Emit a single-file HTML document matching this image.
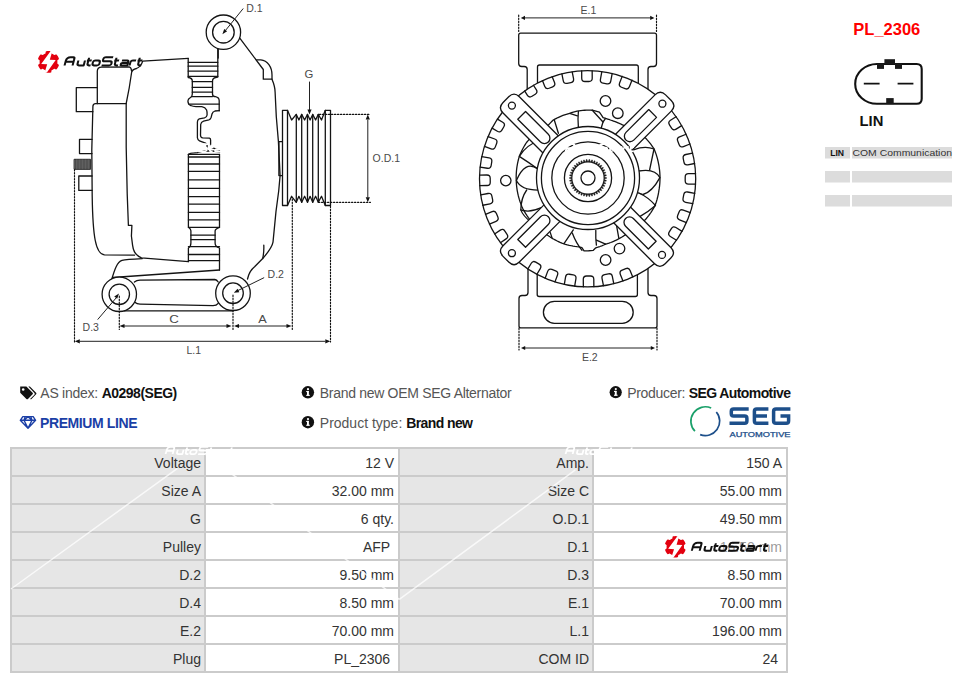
<!DOCTYPE html>
<html><head><meta charset="utf-8"><title>PL_2306</title>
<style>
*{margin:0;padding:0;box-sizing:border-box}
html,body{width:976px;height:683px;overflow:hidden;background:#fff}
body{position:relative;font-family:"Liberation Sans",sans-serif;color:#333}
.abs{position:absolute;white-space:nowrap}
svg{position:absolute;left:0;top:0}
.info{font-size:14px;line-height:16px;color:#555}
.info b{color:#111;font-weight:bold}
table.spec{position:absolute;left:10px;top:447px;border-collapse:separate;border-spacing:2px;background:#cbcbcb;font-size:14px;color:#333;table-layout:fixed;width:778px}
table.spec td{width:192px;height:26px;padding:2px 4px 0 0;text-align:right;vertical-align:middle;line-height:16px;overflow:hidden}
table.spec td.l{background:#e6e6e6;padding-right:3px}
table.spec td.v{background:#fff}
</style></head><body>
<svg width="976" height="683" viewBox="0 0 976 683">
<g stroke-linecap="round" stroke-linejoin="round">
<path d="M97.3,87.7 H76.3 V111.7 H92.9" stroke="#141414" stroke-width="1.3" fill="none"/>
<path d="M92,139.4 H79.5 V153.6 H92" stroke="#141414" stroke-width="1.3" fill="none"/>
<rect x="74.5" y="159.3" width="16" height="10" fill="#4a4a4a" stroke="#222" stroke-width="1"/>
<path d="M76.5,159.8 V168.8" stroke="#777" stroke-width="0.5"/>
<path d="M78.0,159.8 V168.8" stroke="#777" stroke-width="0.5"/>
<path d="M79.5,159.8 V168.8" stroke="#777" stroke-width="0.5"/>
<path d="M81.0,159.8 V168.8" stroke="#777" stroke-width="0.5"/>
<path d="M82.5,159.8 V168.8" stroke="#777" stroke-width="0.5"/>
<path d="M84.0,159.8 V168.8" stroke="#777" stroke-width="0.5"/>
<path d="M85.5,159.8 V168.8" stroke="#777" stroke-width="0.5"/>
<path d="M87.0,159.8 V168.8" stroke="#777" stroke-width="0.5"/>
<path d="M88.5,159.8 V168.8" stroke="#777" stroke-width="0.5"/>
<path d="M90.0,159.8 V168.8" stroke="#777" stroke-width="0.5"/>
<path d="M92.1,176 H78.8 V190.4 H92.1" stroke="#141414" stroke-width="1.3" fill="none"/>
<path d="M97.3,103.7 V71.2 Q97.3,67.3 101.5,67.2 L129.5,67 Q131.4,67.6 131.6,71.2" stroke="#141414" stroke-width="1.3" fill="none"/>
<path d="M126.3,103.7 H95.6 Q92.9,103.7 92.9,106.6 L91.8,150 L92.2,196 C92.8,236 95.5,254.4 104.5,254.8 L134.5,255.2" stroke="#141414" stroke-width="1.3" fill="none"/>
<path d="M188.2,58.4 L142.7,61.1 Q141,66.6 136.5,68.5 Q132.2,69.4 131.6,72.5 C130.6,80 128,95 126.2,103.5 L126.2,147 L127.2,193.7 L128.4,225.4 H131.9 L131.4,236 L132.6,245.3 Q133.8,255 141.5,257.8 L188.4,261.6" stroke="#141414" stroke-width="1.3" fill="none"/>
<path d="M188.2,58.4 V77.5 Q192.3,78 192.3,81 V94 Q192.3,96.7 190.5,97.5 Q187.9,99 187.9,101 Q188,104.5 190.6,105.5" stroke="#141414" stroke-width="1.3" fill="none"/>
<path d="M217.8,49 V77 Q212.5,77.5 212.5,81 V94 Q212.5,96.7 215.5,96.7 Q219.2,97.5 219.2,100.7 V110.8" stroke="#141414" stroke-width="1.3" fill="none"/>
<path d="M188.2,62.3 H217.8" stroke="#141414" stroke-width="1.3" fill="none"/>
<path d="M188.2,66.2 H217.8" stroke="#141414" stroke-width="1.3" fill="none"/>
<path d="M188.2,71.1 H217.8" stroke="#141414" stroke-width="1.3" fill="none"/>
<path d="M188.2,76.4 H217.8" stroke="#141414" stroke-width="1.3" fill="none"/>
<path d="M192.3,81.6 H212.5" stroke="#141414" stroke-width="1.3" fill="none"/>
<path d="M192.3,87.4 H212.5" stroke="#141414" stroke-width="1.3" fill="none"/>
<path d="M192.3,92.2 H212.5" stroke="#141414" stroke-width="1.3" fill="none"/>
<path d="M192.3,96.6 H212.5" stroke="#141414" stroke-width="1.3" fill="none"/>
<path d="M189,104.2 H219.2" stroke="#141414" stroke-width="1.3" fill="none"/>
<path d="M190.6,105.5 Q193,106.6 196,106.6 L201.8,106.6 Q205.3,107.2 206.6,110 Q207.3,112 207.1,115 Q206.8,117.3 204.5,117.9 L199.2,118.9 Q197.4,119.8 197.4,122 V137.8 Q197.6,140 199.5,140.8 L205.5,143.2 Q207.1,144 207.1,145.5 V149.5" stroke="#141414" stroke-width="1.3" fill="none"/>
<path d="M219.4,110.6 L215,111 Q212.6,111.8 212,114 L211.2,117.2 Q210.5,119.3 208.9,119.8 L203.6,121.1 Q201,122 200.7,124.5 L200.5,135.2 Q200.6,137.6 202.7,137.8 L209.4,138.2 Q210.6,138.5 210.6,140 V147.2 L219.8,150.3" stroke="#141414" stroke-width="1.3" fill="none"/>
<path d="M188.4,154.4 Q190,153 197.4,152.7 Q200,152.2 203.6,151 L212.4,151 L219.6,151.9" stroke="#141414" stroke-width="1.3" fill="none"/>
<path d="M188.4,154.4 H219.5" stroke="#141414" stroke-width="1.3" fill="none"/>
<path d="M188.4,154.4 V227.3 Q191,229 190.9,231 V243 Q190.9,246.6 188.4,248 V261.6" stroke="#141414" stroke-width="1.3" fill="none"/>
<path d="M219.5,154.4 V227.3 Q215.1,229 215.1,231 V243 Q215.1,246.6 219.5,248 V270" stroke="#141414" stroke-width="1.3" fill="none"/>
<path d="M188.4,157 H219.5" stroke="#141414" stroke-width="1.3" fill="none"/>
<path d="M188.4,164 H219.5" stroke="#141414" stroke-width="1.3" fill="none"/>
<path d="M188.4,171.4 H219.5" stroke="#141414" stroke-width="1.3" fill="none"/>
<path d="M188.4,179.9 H219.5" stroke="#141414" stroke-width="1.3" fill="none"/>
<path d="M188.4,188.3 H219.5" stroke="#141414" stroke-width="1.3" fill="none"/>
<path d="M188.4,196.6 H219.5" stroke="#141414" stroke-width="1.3" fill="none"/>
<path d="M188.4,204.1 H219.5" stroke="#141414" stroke-width="1.3" fill="none"/>
<path d="M188.4,212.4 H219.5" stroke="#141414" stroke-width="1.3" fill="none"/>
<path d="M188.4,219.9 H219.5" stroke="#141414" stroke-width="1.3" fill="none"/>
<path d="M188.4,227.3 H219.5" stroke="#141414" stroke-width="1.3" fill="none"/>
<path d="M190.9,235.2 H215.1" stroke="#141414" stroke-width="1.3" fill="none"/>
<path d="M190.9,239.6 H215.1" stroke="#141414" stroke-width="1.3" fill="none"/>
<path d="M188.4,246.6 H219.5" stroke="#141414" stroke-width="1.3" fill="none"/>
<path d="M188.4,254.5 H219.5" stroke="#141414" stroke-width="1.3" fill="none"/>
<path d="M188.4,260.7 H219.5" stroke="#141414" stroke-width="1.3" fill="none"/>
<path d="M239.4,37.7 L263.3,69.5 V79.2 H272" stroke="#141414" stroke-width="1.3" fill="none"/>
<path d="M256.7,59.9 H260.8 C267.5,60.5 272,67 272,75.1 V79.2 C274,84 275.1,88 275.1,92 L276.3,116.8 L278.4,141.4 L280.1,175.6 L278.7,191 L276,211.4 L274,231.9 L273,242.1 C272,247.5 268,252.5 262.7,258.5 L254.6,266.7 C251,269.5 248.8,273 247.5,279" stroke="#141414" stroke-width="1.3" fill="none"/>
<path d="M263.8,245.2 C264,250 263.5,255 262.7,258.5" stroke="#141414" stroke-width="1.3" fill="none"/>
<path d="M282.6,141.6 H278.9 V175.6 H282.6" stroke="#141414" stroke-width="1.3" fill="none"/>
<rect x="282.5" y="110.3" width="5" height="95.2" stroke="#141414" stroke-width="1.3" fill="#fff"/>
<rect x="325.3" y="110.3" width="5.2" height="95.2" stroke="#141414" stroke-width="1.3" fill="#fff"/>
<path d="M287.5,110.3 L291.6,120 L296.3,114.4 L298.9,120 L301.7,114.4 L304.6,120 L307.5,114.4 L310.1,120 L312.7,114.4 L315.6,120 L318.3,114.4 L321.5,120 L325.3,110.3" stroke="#141414" stroke-width="1.3" fill="none"/>
<path d="M287.5,205.5 L291.6,196.3 L296.3,202.3 L298.9,196.3 L301.7,202.3 L304.6,196.3 L307.5,202.3 L310.1,196.3 L312.7,202.3 L315.6,196.3 L318.3,202.3 L321.5,196.3 L325.3,205.5" stroke="#141414" stroke-width="1.3" fill="none"/>
<path d="M296.3,114.4 V202.3" stroke="#141414" stroke-width="1.3" fill="none"/>
<path d="M301.7,114.4 V202.3" stroke="#141414" stroke-width="1.3" fill="none"/>
<path d="M307.5,114.4 V202.3" stroke="#141414" stroke-width="1.3" fill="none"/>
<path d="M312.7,114.4 V202.3" stroke="#141414" stroke-width="1.3" fill="none"/>
<path d="M318.3,114.4 V202.3" stroke="#141414" stroke-width="1.3" fill="none"/>
<circle cx="223.4" cy="32.2" r="17.2" stroke="#141414" stroke-width="1.3" fill="#fff"/>
<circle cx="223.4" cy="32.2" r="10.8" stroke="#141414" stroke-width="1.3" fill="none"/>
<path d="M218.2,49.3 V58" stroke="#141414" stroke-width="1.3" fill="none"/>
<path d="M111.8,279 C114.5,270 117,262 122,260.4 Q126,259.4 142.3,258.6" stroke="#141414" stroke-width="1.3" fill="none"/>
<path d="M112.8,277.5 L219.5,270" stroke="#141414" stroke-width="1.3" fill="none"/>
<path d="M134.4,282 Q136.5,280.3 140,280.2 L214.8,279.5 Q216.8,279.7 218.2,282" stroke="#141414" stroke-width="1.3" fill="none"/>
<path d="M135.2,302.5 Q136.8,304.1 140,304.2 L213,305.7 Q216.5,305.6 218.2,303.3" stroke="#141414" stroke-width="1.3" fill="none"/>
<path d="M124.4,310.9 H233" stroke="#141414" stroke-width="1.3" fill="none"/>
<circle cx="119.3" cy="294.3" r="17.2" stroke="#141414" stroke-width="1.3" fill="#fff"/>
<circle cx="119.3" cy="294.3" r="10.2" stroke="#141414" stroke-width="1.3" fill="none"/>
<circle cx="233" cy="293.2" r="17.3" stroke="#141414" stroke-width="1.3" fill="#fff"/>
<circle cx="233" cy="293.2" r="10.3" stroke="#141414" stroke-width="1.3" fill="none"/>
<path d="M74.5,169.5 V343" stroke="#111" stroke-width="1.15" stroke-dasharray="1.4,1.6" fill="none"/>
<path d="M119.3,296 V329.5" stroke="#111" stroke-width="1.15" stroke-dasharray="1.4,1.6" fill="none"/>
<path d="M233,295 V329.5" stroke="#111" stroke-width="1.15" stroke-dasharray="1.4,1.6" fill="none"/>
<path d="M292.3,199 V329.5" stroke="#111" stroke-width="1.15" stroke-dasharray="1.4,1.6" fill="none"/>
<path d="M330.5,206 V342" stroke="#111" stroke-width="1.15" stroke-dasharray="1.4,1.6" fill="none"/>
<path d="M319.5,114.4 H370.5 M318.5,202.3 H370.5" stroke="#111" stroke-width="1.15" stroke-dasharray="1.4,1.6" fill="none"/>
<path d="M80,341.3 H325 M124,326 H227 M238,326 H287 M367.8,120 V197 M309.5,82 V110" stroke="#222" stroke-width="1" fill="none"/>
<path d="M74.8,341.3 l5,-2.1 v4.2 z M330.3,341.3 l-5,-2.1 v4.2 z M119.5,326 l5,-2.1 v4.2 z M231.5,326 l-5,-2.1 v4.2 z M234,326 l5,-2.1 v4.2 z M291.5,326 l-5,-2.1 v4.2 z M367.8,114.6 l-2.1,5 h4.2 z M367.8,202.2 l-2.1,-5 h4.2 z M309.5,114.6 l-2.1,-5 h4.2 z" fill="#111"/>
<path d="M243,8.8 L226,29.8 M263.8,277.8 L238,290.5 M97.9,319.3 L115.8,298.3" stroke="#222" stroke-width="1" fill="none"/>
<path d="M222.40,34.20 L224.20,28.96 L227.15,31.36 Z M233.80,292.80 L237.60,288.78 L239.30,292.17 Z M119.00,293.60 L117.17,298.82 L114.23,296.41 Z" fill="#111"/>
<path d="M527.2,100 V69.5 A3,3 0 0 0 524.2,66.5 H521.7 A3,3 0 0 1 518.7,63.5 V35.2 A2,2 0 0 1 520.7,33.2 H654.5 A2,2 0 0 1 656.5,35.2 V63.5 A3,3 0 0 1 653.5,66.5 H651 A3,3 0 0 0 648,69.5 V100" stroke="#141414" stroke-width="1.3" fill="#fff"/>
<path d="M537.5,100 V67 A2,2 0 0 1 539.5,65 H636.3 A2,2 0 0 1 638.3,67 V100" stroke="#141414" stroke-width="1.3" fill="none"/>
<path d="M528,250 V292.5 A3,3 0 0 1 525,295.5 H522 A3,3 0 0 0 519,298.5 V325.9 A2,2 0 0 0 521,327.9 H655 A2,2 0 0 0 657,325.9 V298.5 A3,3 0 0 0 654,295.5 H651 A3,3 0 0 1 648,292.5 V250" stroke="#141414" stroke-width="1.3" fill="#fff"/>
<path d="M537.2,250 V294.5 A2,2 0 0 0 539.2,296.5 H635.4 A2,2 0 0 0 637.4,294.5 V250" stroke="#141414" stroke-width="1.3" fill="none"/>
<rect x="543.4" y="301.3" width="89.8" height="22" rx="11" stroke="#141414" stroke-width="1.3" fill="none"/>
<circle cx="587.6" cy="178.8" r="108.1" stroke="#141414" stroke-width="1.3" fill="#fff"/>
<path d="M524.61,90.95 L527.45,95.33 Q529.24,98.1 532.01,96.31 L535.28,94.2 Q538.06,92.41 536.27,89.63 L533.43,85.25" stroke="#141414" stroke-width="1.3" fill="none"/>
<path d="M542.44,80.58 L544.79,86.41 Q546.02,89.47 549.08,88.24 L552.7,86.79 Q555.76,85.56 554.53,82.49 L552.18,76.67" stroke="#141414" stroke-width="1.3" fill="none"/>
<path d="M561.89,73.8 L563.23,80.74 Q563.86,83.98 567.1,83.35 L570.93,82.61 Q574.17,81.98 573.54,78.74 L572.19,71.8" stroke="#141414" stroke-width="1.3" fill="none"/>
<path d="M581.67,70.86 L581.72,78.24 Q581.74,81.54 585.04,81.52 L588.94,81.49 Q592.24,81.47 592.22,78.17 L592.17,70.8" stroke="#141414" stroke-width="1.3" fill="none"/>
<path d="M601.83,71.64 L600.43,79.33 Q599.84,82.57 603.08,83.17 L606.92,83.87 Q610.16,84.46 610.76,81.21 L612.16,73.53" stroke="#141414" stroke-width="1.3" fill="none"/>
<path d="M622.19,76.38 L619.6,82.98 Q618.4,86.05 621.47,87.25 L625.1,88.68 Q628.17,89.89 629.38,86.82 L631.97,80.22" stroke="#141414" stroke-width="1.3" fill="none"/>
<path d="M676.09,116.71 L670.5,120.24 Q667.71,122 669.47,124.79 L671.56,128.09 Q673.32,130.88 676.11,129.12 L681.7,125.59" stroke="#141414" stroke-width="1.3" fill="none"/>
<path d="M686.09,134.25 L679.58,136.83 Q676.51,138.04 677.72,141.11 L679.15,144.74 Q680.36,147.81 683.43,146.59 L689.95,144.02" stroke="#141414" stroke-width="1.3" fill="none"/>
<path d="M692.62,153.19 L685.82,154.51 Q682.58,155.13 683.2,158.37 L683.94,162.2 Q684.57,165.44 687.81,164.82 L694.61,163.5" stroke="#141414" stroke-width="1.3" fill="none"/>
<path d="M695.58,173.6 L688.5,173.6 Q685.2,173.6 685.2,176.9 L685.2,180.8 Q685.19,184.1 688.49,184.1 L695.57,184.1" stroke="#141414" stroke-width="1.3" fill="none"/>
<path d="M694.72,193.3 L687.62,191.99 Q684.37,191.38 683.77,194.63 L683.06,198.46 Q682.46,201.71 685.7,202.31 L692.81,203.63" stroke="#141414" stroke-width="1.3" fill="none"/>
<path d="M690.24,212.73 L683.34,210.07 Q680.26,208.88 679.08,211.96 L677.67,215.6 Q676.49,218.68 679.57,219.87 L686.46,222.52" stroke="#141414" stroke-width="1.3" fill="none"/>
<path d="M682.06,231.36 L675.9,227.53 Q673.09,225.78 671.35,228.59 L669.29,231.9 Q667.55,234.7 670.35,236.44 L676.52,240.28" stroke="#141414" stroke-width="1.3" fill="none"/>
<path d="M492.1,128.16 L497.35,131.28 Q500.19,132.97 501.87,130.13 L503.87,126.78 Q505.55,123.94 502.71,122.25 L497.46,119.13" stroke="#141414" stroke-width="1.3" fill="none"/>
<path d="M484.47,146.41 L491.11,148.85 Q494.2,149.99 495.34,146.9 L496.69,143.24 Q497.83,140.14 494.74,139 L488.1,136.55" stroke="#141414" stroke-width="1.3" fill="none"/>
<path d="M480.14,167.09 L487.39,168.24 Q490.65,168.76 491.17,165.5 L491.78,161.65 Q492.29,158.39 489.03,157.87 L481.78,156.72" stroke="#141414" stroke-width="1.3" fill="none"/>
<path d="M479.72,185.62 L487,185.52 Q490.3,185.47 490.25,182.17 L490.2,178.27 Q490.15,174.97 486.85,175.02 L479.56,175.12" stroke="#141414" stroke-width="1.3" fill="none"/>
<path d="M482.79,205.26 L490.07,203.8 Q493.3,203.15 492.65,199.91 L491.88,196.09 Q491.23,192.85 488,193.5 L480.72,194.97" stroke="#141414" stroke-width="1.3" fill="none"/>
<path d="M489.42,224.04 L496.05,221.37 Q499.11,220.13 497.87,217.07 L496.42,213.45 Q495.18,210.39 492.12,211.63 L485.49,214.3" stroke="#141414" stroke-width="1.3" fill="none"/>
<path d="M500.39,242.68 L506.11,238.91 Q508.86,237.09 507.04,234.33 L504.89,231.08 Q503.08,228.33 500.32,230.15 L494.61,233.92" stroke="#141414" stroke-width="1.3" fill="none"/>
<path d="M536.93,274.29 L540.28,268.65 Q541.97,265.81 539.13,264.12 L535.78,262.13 Q532.94,260.44 531.26,263.28 L527.9,268.92" stroke="#141414" stroke-width="1.3" fill="none"/>
<path d="M554.99,281.86 L557.51,275.05 Q558.66,271.96 555.56,270.81 L551.91,269.46 Q548.81,268.31 547.67,271.4 L545.14,278.21" stroke="#141414" stroke-width="1.3" fill="none"/>
<path d="M574.68,286.13 L575.94,278.7 Q576.5,275.45 573.24,274.9 L569.4,274.24 Q566.14,273.69 565.59,276.94 L564.33,284.37" stroke="#141414" stroke-width="1.3" fill="none"/>
<path d="M593.86,286.72 L593.79,279.25 Q593.76,275.95 590.46,275.98 L586.56,276.02 Q583.26,276.05 583.29,279.35 L583.36,286.82" stroke="#141414" stroke-width="1.3" fill="none"/>
<path d="M613.76,283.69 L612.32,276.45 Q611.68,273.21 608.44,273.85 L604.62,274.61 Q601.38,275.25 602.02,278.49 L603.46,285.73" stroke="#141414" stroke-width="1.3" fill="none"/>
<path d="M632.73,277.03 L630.09,270.47 Q628.86,267.41 625.8,268.64 L622.18,270.09 Q619.12,271.32 620.35,274.39 L622.98,280.94" stroke="#141414" stroke-width="1.3" fill="none"/>
<circle cx="505.8" cy="180.6" r="5.2" stroke="#141414" stroke-width="1.3" fill="none"/>
<circle cx="605.5" cy="101" r="5.3" stroke="#141414" stroke-width="1.3" fill="none"/>
<circle cx="617.8" cy="113.2" r="5.3" stroke="#141414" stroke-width="1.3" fill="none"/>
<circle cx="619.5" cy="248.6" r="5.3" stroke="#141414" stroke-width="1.3" fill="none"/>
<circle cx="605.6" cy="260" r="5.3" stroke="#141414" stroke-width="1.3" fill="none"/>
<path d="M660,178 L659.98,176.12 L659.9,174.23 L659.78,172.35 L659.61,170.47 L659.38,168.6 L659.11,166.74 L658.79,164.88 L658.43,163.03 L657.99,160.98 L657.49,158.93 L656.93,156.91 L656.31,154.9 L655.64,152.9 L654.9,150.93 L654.11,148.98 L652.98,147.26 L651.81,145.59 L650.6,143.95 L649.34,142.36 L648.05,140.81 L646.71,139.31 L645.34,137.85 L643.61,136.6 L641.86,135.41 L640.09,134.29 L638.3,133.24 L636.49,132.25 L634.67,131.33 L633.15,130.32 L631.6,129.36 L630.04,128.45 L628.47,127.58 L626.87,126.76 L625.26,126 L623.64,125.28 L622.01,124.61 L620.33,123.79 L618.64,123.03 L616.93,122.31 L615.2,121.65 L613.46,121.05 L611.7,120.49 L609.7,119.74 L607.68,119.07 L605.64,118.46 L603.07,117.55 L601.32,114.79 L599.39,112.08 L597.64,111.54 L595.86,111.06 L594.07,110.62 L592.26,110.23 L590.35,110.16 L588.44,110.13 L586.53,110.16 L584.62,110.24 L582.71,110.38 L580.81,110.57 L578.92,110.81 L577.04,111.21 L575.18,111.67 L573.33,112.17 L571.51,112.73 L569.7,113.34 L567.99,113.81 L566.3,114.32 L564.61,114.87 L562.94,115.47 L561.29,116.12 L559.65,116.81 L558.03,117.54 L556.43,118.32 L554.84,119.14 L553.28,119.99 L551.97,121.28 L550.69,122.59 L549.46,123.93 L548.28,125.29 L546.57,126.11 L544.88,126.98 L543.21,127.9 L541.55,128.88 L539.92,129.92 L538.46,130.99 L537.02,132.1 L535.61,133.25 L534.22,134.45 L532.86,135.69 L531.53,136.97 L530.23,138.29 L528.96,139.66 L527.72,141.06 L526.51,142.5 L525.46,144.13 L524.45,145.79 L523.48,147.48 L522.56,149.2 L521.68,150.95 L520.85,152.73 L520.07,154.53 L519.33,156.35 L518.8,158.16 L518.32,159.98 L517.89,161.81 L517.51,163.66 L517.17,165.51 L516.88,167.37 L516.64,169.24 L516.45,171.11 L516.31,172.99 L516.22,174.87 L516.18,176.75 L516.19,178.63 L516.24,180.51 L516.32,182.43 L516.45,184.34 L516.64,186.26 L516.87,188.17 L517.15,190.07 L517.49,191.96 L517.87,193.85 L518.31,195.72 L518.8,197.58 L519.33,199.43 L519.92,201.27 L520.55,203.08 L521.24,204.88 L521.97,206.67 L522.75,208.43 L523.73,210.28 L524.77,212.09 L525.86,213.88 L527,215.62 L528.19,217.34 L529.43,219.01 L530.72,220.65 L532.05,222.24 L533.42,223.8 L534.84,225.31 L536.3,226.78 L537.8,228.2 L539.29,229.45 L540.81,230.65 L542.37,231.81 L543.95,232.92 L545.56,233.98 L547.19,235 L548.72,236.06 L550.27,237.08 L551.85,238.06 L553.46,239 L555.09,239.89 L556.74,240.75 L558.42,241.55 L560.12,242.32 L561.83,243.03 L563.57,243.7 L565.45,244.28 L567.35,244.81 L569.26,245.28 L571.19,245.69 L573.12,246.05 L575.05,246.36 L577,246.61 L578.94,246.81 L581.9,247.73 L584.05,250.89 L586.38,250.86 L588.7,250.75 L591.01,250.56 L593.31,250.31 L595.83,247.76 L597.84,247.16 L599.83,246.51 L601.79,245.79 L603.72,245.02 L605.61,244.2 L607.33,243.67 L609.03,243.1 L610.71,242.49 L612.38,241.84 L614.02,241.14 L615.65,240.4 L617.26,239.61 L618.84,238.79 L620.4,237.93 L621.94,237.02 L623.45,236.08 L624.94,235.09 L626.5,234.2 L628.04,233.27 L629.56,232.29 L631.06,231.27 L632.53,230.21 L633.98,229.11 L635.4,227.97 L636.79,226.79 L638.43,225.58 L640.04,224.31 L641.62,223 L643.17,221.62 L644.68,220.2 L646.16,218.72 L647.43,217.19 L648.66,215.61 L649.85,214 L651,212.35 L652.1,210.66 L653.15,208.94 L654.16,207.18 L655.13,205.39 L655.77,203.58 L656.37,201.74 L656.92,199.9 L657.42,198.04 L657.86,196.17 L658.26,194.29 L658.61,192.4 L658.91,190.5 L659.24,188.44 L659.51,186.36 L659.73,184.28 L659.88,182.19 L659.97,180.09 Z" stroke="#141414" stroke-width="1.3" fill="none"/>
<path d="M541,139.5 Q526,145 519.3,156.4 Q528,162 537.6,168.8" stroke="#141414" stroke-width="1.3" fill="none"/>
<path d="M537.6,168.8 Q525,160 516.4,180.5 Q521,190 538,190.1" stroke="#141414" stroke-width="1.3" fill="none"/>
<path d="M526.7,190 Q521,198 520.8,209.9 Q530,213 541.3,207.7" stroke="#141414" stroke-width="1.3" fill="none"/>
<path d="M520.8,209.9 Q523,216 531,222" stroke="#141414" stroke-width="1.3" fill="none"/>
<path d="M633.5,149.8 Q645,145.5 654,149 L649.6,170" stroke="#141414" stroke-width="1.3" fill="none"/>
<path d="M638.7,171 Q655,168 659.9,177.6 Q652,192 643,194.5 L638.7,193" stroke="#141414" stroke-width="1.3" fill="none"/>
<path d="M638.7,193 Q648,197 655.5,205.5 Q648,212 640.1,216.4" stroke="#141414" stroke-width="1.3" fill="none"/>
<path d="M554.3,120 L558.4,133.3" stroke="#141414" stroke-width="1.3" fill="none"/>
<path d="M569.7,113.3 L577.4,115.9" stroke="#141414" stroke-width="1.3" fill="none"/>
<path d="M578.4,111.3 Q577.6,119 578.4,127.7" stroke="#141414" stroke-width="1.3" fill="none"/>
<path d="M592.3,110.2 L603,122 L601,128.7" stroke="#141414" stroke-width="1.3" fill="none"/>
<path d="M603,122 L605.6,118.4" stroke="#141414" stroke-width="1.3" fill="none"/>
<path d="M550.2,232.4 L552.3,238.6" stroke="#141414" stroke-width="1.3" fill="none"/>
<path d="M573.3,229.9 L564,243.7" stroke="#141414" stroke-width="1.3" fill="none"/>
<path d="M572.3,233 Q576,243 582,250.3" stroke="#141414" stroke-width="1.3" fill="none"/>
<path d="M595.8,230.4 Q595.5,238 596.4,245.2" stroke="#141414" stroke-width="1.3" fill="none"/>
<path d="M596.4,240.1 L605.6,244.2" stroke="#141414" stroke-width="1.3" fill="none"/>
<path d="M616.3,224.2 L618.9,238.6" stroke="#141414" stroke-width="1.3" fill="none"/>
<path d="M608.31,141.53 L654.98,94.86 Q660.28,89.56 665.58,94.86 L671.24,100.52 Q676.54,105.82 671.24,111.12 L624.57,157.79" stroke="#141414" stroke-width="1.3" fill="#fff"/>
<circle cx="662.4" cy="103.7" r="3.5" stroke="#141414" stroke-width="1.3" fill="none"/>
<path d="M648.75,109.57 L625.98,132.34 A5.5,5.5 0 0 0 633.76,140.12 L656.53,117.35 Z" stroke="#141414" stroke-width="1.3" fill="none" stroke-linejoin="round"/>
<path d="M549.73,159.69 L503.06,113.02 Q497.76,107.72 503.06,102.42 L508.72,96.76 Q514.02,91.46 519.32,96.76 L565.99,143.43" stroke="#141414" stroke-width="1.3" fill="#fff"/>
<circle cx="511.9" cy="105.6" r="3.5" stroke="#141414" stroke-width="1.3" fill="none"/>
<path d="M517.77,119.25 L540.54,142.02 A5.5,5.5 0 0 0 548.32,134.24 L525.55,111.47 Z" stroke="#141414" stroke-width="1.3" fill="none" stroke-linejoin="round"/>
<path d="M565.99,215.37 L519.32,262.04 Q514.02,267.34 508.72,262.04 L503.06,256.38 Q497.76,251.08 503.06,245.78 L549.73,199.11" stroke="#141414" stroke-width="1.3" fill="#fff"/>
<circle cx="511.9" cy="253.2" r="3.5" stroke="#141414" stroke-width="1.3" fill="none"/>
<path d="M525.55,247.33 L548.32,224.56 A5.5,5.5 0 0 0 540.54,216.78 L517.77,239.55 Z" stroke="#141414" stroke-width="1.3" fill="none" stroke-linejoin="round"/>
<path d="M624.17,200.81 L670.84,247.48 Q676.14,252.78 670.84,258.08 L665.18,263.74 Q659.88,269.04 654.58,263.74 L607.91,217.07" stroke="#141414" stroke-width="1.3" fill="#fff"/>
<circle cx="662" cy="254.9" r="3.5" stroke="#141414" stroke-width="1.3" fill="none"/>
<path d="M656.13,241.25 L633.36,218.48 A5.5,5.5 0 0 0 625.58,226.26 L648.35,249.03 Z" stroke="#141414" stroke-width="1.3" fill="none" stroke-linejoin="round"/>
<circle cx="588" cy="178" r="51.5" stroke="#141414" stroke-width="1.3" fill="#fff"/>
<circle cx="588" cy="178" r="46.6" stroke="#141414" stroke-width="1.3" fill="none"/>
<circle cx="588" cy="178" r="36.2" stroke="#141414" stroke-width="1.3" fill="none"/>
<circle cx="588" cy="178" r="23.6" stroke="#141414" stroke-width="1.3" fill="none"/>
<polygon points="604.68,178.76 606.5,178.42 606.5,177.58 604.68,177.24 604.61,176.26 606.35,175.66 606.23,174.83 604.38,174.76 604.16,173.81 605.8,172.95 605.55,172.15 603.72,172.36 603.36,171.44 604.85,170.35 604.48,169.6 602.7,170.08 602.21,169.23 603.52,167.93 603.05,167.23 601.36,167.98 600.74,167.21 601.84,165.73 601.27,165.11 599.71,166.1 598.99,165.43 599.86,163.8 599.2,163.28 597.81,164.48 597,163.93 597.61,162.19 596.88,161.77 595.69,163.17 594.8,162.75 595.15,160.94 594.37,160.63 593.39,162.19 592.45,161.9 592.52,160.06 591.71,159.88 590.97,161.57 590,161.42 589.8,159.59 588.96,159.53 588.49,161.31 587.51,161.31 587.04,159.53 586.2,159.59 586,161.42 585.03,161.57 584.29,159.88 583.48,160.06 583.55,161.9 582.61,162.19 581.63,160.63 580.85,160.94 581.2,162.75 580.31,163.17 579.12,161.77 578.39,162.19 579,163.93 578.19,164.48 576.8,163.28 576.14,163.8 577.01,165.43 576.29,166.1 574.73,165.11 574.16,165.73 575.26,167.21 574.64,167.98 572.95,167.23 572.48,167.93 573.79,169.23 573.3,170.08 571.52,169.6 571.15,170.35 572.64,171.44 572.28,172.36 570.45,172.15 570.2,172.95 571.84,173.81 571.62,174.76 569.77,174.83 569.65,175.66 571.39,176.26 571.32,177.24 569.5,177.58 569.5,178.42 571.32,178.76 571.39,179.74 569.65,180.34 569.77,181.17 571.62,181.24 571.84,182.19 570.2,183.05 570.45,183.85 572.28,183.64 572.64,184.56 571.15,185.65 571.52,186.4 573.3,185.92 573.79,186.77 572.48,188.07 572.95,188.77 574.64,188.02 575.26,188.79 574.16,190.27 574.73,190.89 576.29,189.9 577.01,190.57 576.14,192.2 576.8,192.72 578.19,191.52 579,192.07 578.39,193.81 579.12,194.23 580.31,192.83 581.2,193.25 580.85,195.06 581.63,195.37 582.61,193.81 583.55,194.1 583.48,195.94 584.29,196.12 585.03,194.43 586,194.58 586.2,196.41 587.04,196.47 587.51,194.69 588.49,194.69 588.96,196.47 589.8,196.41 590,194.58 590.97,194.43 591.71,196.12 592.52,195.94 592.45,194.1 593.39,193.81 594.37,195.37 595.15,195.06 594.8,193.25 595.69,192.83 596.88,194.23 597.61,193.81 597,192.07 597.81,191.52 599.2,192.72 599.86,192.2 598.99,190.57 599.71,189.9 601.27,190.89 601.84,190.27 600.74,188.79 601.36,188.02 603.05,188.77 603.52,188.07 602.21,186.77 602.7,185.92 604.48,186.4 604.85,185.65 603.36,184.56 603.72,183.64 605.55,183.85 605.8,183.05 604.16,182.19 604.38,181.24 606.23,181.17 606.35,180.34 604.61,179.74" fill="#1a1a1a" stroke="#1a1a1a" stroke-width="0.4" stroke-linejoin="round"/>
<circle cx="588" cy="178" r="15.6" fill="#fff"/>
<circle cx="588" cy="178" r="7" stroke="#141414" stroke-width="1.3" fill="none"/>
<path d="M518.7,15 V33" stroke="#111" stroke-width="1.15" stroke-dasharray="1.4,1.6" fill="none"/><path d="M656.5,15 V33" stroke="#111" stroke-width="1.15" stroke-dasharray="1.4,1.6" fill="none"/>
<path d="M524,17.9 H651" stroke="#222" stroke-width="1" fill="none"/>
<path d="M520.8,17.9 l4.2,-2.1 v4.2 z M654.4,17.9 l-4.2,-2.1 v4.2 z" fill="#111"/>
<path d="M519,328 V350" stroke="#111" stroke-width="1.15" stroke-dasharray="1.4,1.6" fill="none"/><path d="M657,328 V350" stroke="#111" stroke-width="1.15" stroke-dasharray="1.4,1.6" fill="none"/>
<path d="M524,348 H652" stroke="#222" stroke-width="1" fill="none"/>
<path d="M521,348 l4.2,-2.1 v4.2 z M655,348 l-4.2,-2.1 v4.2 z" fill="#111"/>
</g>

<text x="246.2" y="12.3" font-family="Liberation Sans, sans-serif" font-size="10.5" fill="#4a4a4a">D.1</text>
<text x="304.6" y="77.8" font-family="Liberation Sans, sans-serif" font-size="10.5" fill="#4a4a4a" textLength="8.8" lengthAdjust="spacingAndGlyphs">G</text>
<text x="372.6" y="162.2" font-family="Liberation Sans, sans-serif" font-size="10.5" fill="#4a4a4a">O.D.1</text>
<text x="267.6" y="277.8" font-family="Liberation Sans, sans-serif" font-size="10.5" fill="#4a4a4a">D.2</text>
<text x="82.6" y="330.6" font-family="Liberation Sans, sans-serif" font-size="10.5" fill="#4a4a4a">D.3</text>
<text x="169.2" y="323.2" font-family="Liberation Sans, sans-serif" font-size="10.5" fill="#4a4a4a" textLength="9.6" lengthAdjust="spacingAndGlyphs">C</text>
<text x="258.3" y="323.2" font-family="Liberation Sans, sans-serif" font-size="10.5" fill="#4a4a4a" textLength="8.5" lengthAdjust="spacingAndGlyphs">A</text>
<text x="186.5" y="353.6" font-family="Liberation Sans, sans-serif" font-size="10.5" fill="#4a4a4a">L.1</text>
<text x="588.5" y="13.5" text-anchor="middle" font-family="Liberation Sans, sans-serif" font-size="10.5" fill="#4a4a4a">E.1</text>
<text x="589.8" y="361.3" text-anchor="middle" font-family="Liberation Sans, sans-serif" font-size="10.5" fill="#4a4a4a">E.2</text>

<g transform="translate(164.5,152.2) scale(0.88) skewX(-15)" fill="none" stroke="#fff" stroke-width="2.05" stroke-linejoin="round">
<path transform="translate(1.00,0)" d="M0,-1.0 V-5.6 Q0,-9.2 3.6,-9.2 H6.5 Q8.0,-9.2 8.0,-7.699999999999999 V-1.0 M0,-4.6 H8.0"/>
<path transform="translate(13.50,0)" d="M0,-5.9 V-3.0 Q0,-1.0 2.0,-1.0 H6.6 V-5.9"/>
<path transform="translate(22.20,0)" d="M1.3,-8.6 V-3.0 Q1.3,-1.0 3.3,-1.0 H4.8 M-0.2,-5.9 H4.6"/>
<path transform="translate(28.50,0)" d="M2.0,-5.9 H4.9 Q6.9,-5.9 6.9,-3.9000000000000004 V-3.0 Q6.9,-1.0 4.9,-1.0 H2.0 Q0,-1.0 0,-3.0 V-3.9000000000000004 Q0,-5.9 2.0,-5.9 Z"/>
<path transform="translate(38.00,0)" d="M9.4,-9.2 H2.0 Q0,-9.2 0,-7.199999999999999 V-6.5 Q0,-5.1 2.0,-5.1 H7.4 Q9.4,-5.1 9.4,-3.0999999999999996 V-3.0 Q9.4,-1.0 7.4,-1.0 H0"/>
<path transform="translate(49.60,0)" d="M1.3,-8.6 V-3.0 Q1.3,-1.0 3.3,-1.0 H4.8 M-0.2,-5.9 H4.6"/>
<path transform="translate(56.90,0)" d="M0.2,-5.9 H5.4 Q6.9,-5.9 6.9,-4.4 V-1.0 H1.2 Q0,-1.0 0,-2.2 Q0,-3.45 1.2,-3.45 H6.9"/>
<path transform="translate(66.00,0)" d="M0,-1.0 V-3.9000000000000004 Q0,-5.9 2.0,-5.9 H5.2"/>
<path transform="translate(72.90,0)" d="M1.3,-8.6 V-3.0 Q1.3,-1.0 3.3,-1.0 H4.8 M-0.2,-5.9 H4.6"/>
</g>
<g transform="translate(564.5,152.2) scale(0.88) skewX(-15)" fill="none" stroke="#fff" stroke-width="2.05" stroke-linejoin="round">
<path transform="translate(1.00,0)" d="M0,-1.0 V-5.6 Q0,-9.2 3.6,-9.2 H6.5 Q8.0,-9.2 8.0,-7.699999999999999 V-1.0 M0,-4.6 H8.0"/>
<path transform="translate(13.50,0)" d="M0,-5.9 V-3.0 Q0,-1.0 2.0,-1.0 H6.6 V-5.9"/>
<path transform="translate(22.20,0)" d="M1.3,-8.6 V-3.0 Q1.3,-1.0 3.3,-1.0 H4.8 M-0.2,-5.9 H4.6"/>
<path transform="translate(28.50,0)" d="M2.0,-5.9 H4.9 Q6.9,-5.9 6.9,-3.9000000000000004 V-3.0 Q6.9,-1.0 4.9,-1.0 H2.0 Q0,-1.0 0,-3.0 V-3.9000000000000004 Q0,-5.9 2.0,-5.9 Z"/>
<path transform="translate(38.00,0)" d="M9.4,-9.2 H2.0 Q0,-9.2 0,-7.199999999999999 V-6.5 Q0,-5.1 2.0,-5.1 H7.4 Q9.4,-5.1 9.4,-3.0999999999999996 V-3.0 Q9.4,-1.0 7.4,-1.0 H0"/>
<path transform="translate(49.60,0)" d="M1.3,-8.6 V-3.0 Q1.3,-1.0 3.3,-1.0 H4.8 M-0.2,-5.9 H4.6"/>
<path transform="translate(56.90,0)" d="M0.2,-5.9 H5.4 Q6.9,-5.9 6.9,-4.4 V-1.0 H1.2 Q0,-1.0 0,-2.2 Q0,-3.45 1.2,-3.45 H6.9"/>
<path transform="translate(66.00,0)" d="M0,-1.0 V-3.9000000000000004 Q0,-5.9 2.0,-5.9 H5.2"/>
<path transform="translate(72.90,0)" d="M1.3,-8.6 V-3.0 Q1.3,-1.0 3.3,-1.0 H4.8 M-0.2,-5.9 H4.6"/>
</g>
<path d="M57.40,61.90 L57.40,61.74 L57.39,61.59 L57.39,61.43 L57.38,61.28 L57.37,61.12 L57.35,60.97 L57.33,60.82 L57.31,60.66 L57.29,60.51 L57.35,60.34 L57.54,60.14 L57.82,59.92 L58.15,59.67 L58.46,59.42 L58.73,59.16 L58.90,58.92 L58.92,58.71 L58.87,58.53 L58.81,58.35 L58.74,58.17 L58.68,57.99 L58.61,57.82 L58.53,57.64 L58.46,57.47 L58.38,57.29 L58.30,57.12 L58.21,56.95 L58.12,56.78 L58.03,56.62 L57.94,56.45 L57.84,56.29 L57.74,56.12 L57.64,55.96 L57.54,55.80 L57.43,55.65 L57.32,55.49 L57.21,55.34 L57.09,55.19 L56.97,55.04 L56.85,54.89 L56.73,54.75 L56.60,54.61 L56.47,54.47 L56.28,54.39 L55.99,54.41 L55.63,54.51 L55.25,54.66 L54.88,54.82 L54.54,54.95 L54.28,55.02 L54.10,54.98 L53.98,54.89 L53.86,54.79 L53.73,54.70 L53.60,54.61 L53.48,54.52 L53.35,54.44 L53.22,54.35 L53.08,54.27 L52.95,54.19 L52.81,54.12 L52.68,54.04 L52.54,53.97 L52.40,53.90 L52.26,53.83 L52.12,53.77 L51.98,53.71 L51.83,53.65 L51.69,53.59 L51.57,53.46 L51.50,53.19 L51.45,52.83 L51.39,52.43 L51.33,52.03 L51.24,51.67 L51.12,51.41 L50.95,51.28 L50.77,51.24 L50.58,51.20 L50.39,51.17 L50.21,51.13 L50.02,51.11 L49.83,51.08 L49.64,51.06 L49.45,51.04 L49.26,51.03 L49.07,51.01 L48.88,51.01 L48.69,51.00 L48.50,51.00 L48.31,51.00 L48.12,51.01 L47.93,51.01 L47.74,51.03 L47.55,51.04 L47.36,51.06 L47.17,51.08 L46.98,51.11 L46.79,51.13 L46.61,51.17 L46.42,51.20 L46.23,51.24 L46.05,51.28 L45.88,51.41 L45.76,51.67 L45.67,52.03 L45.61,52.43 L45.55,52.83 L45.50,53.19 L45.43,53.46 L45.31,53.59 L45.17,53.65 L45.02,53.71 L44.88,53.77 L44.74,53.83 L44.60,53.90 L44.46,53.97 L44.32,54.04 L44.19,54.12 L44.05,54.19 L43.92,54.27 L43.78,54.35 L43.65,54.44 L43.52,54.52 L43.40,54.61 L43.27,54.70 L43.14,54.79 L43.02,54.89 L42.90,54.98 L42.72,55.02 L42.46,54.95 L42.12,54.82 L41.75,54.66 L41.37,54.51 L41.01,54.41 L40.72,54.39 L40.53,54.47 L40.40,54.61 L40.27,54.75 L40.15,54.89 L40.03,55.04 L39.91,55.19 L39.79,55.34 L39.68,55.49 L39.57,55.65 L39.46,55.80 L39.36,55.96 L39.26,56.12 L39.16,56.29 L39.06,56.45 L38.97,56.62 L38.88,56.78 L38.79,56.95 L38.70,57.12 L38.62,57.29 L38.54,57.47 L38.47,57.64 L38.39,57.82 L38.32,57.99 L38.26,58.17 L38.19,58.35 L38.13,58.53 L38.08,58.71 L38.10,58.92 L38.27,59.16 L38.54,59.42 L38.85,59.67 L39.18,59.92 L39.46,60.14 L39.65,60.34 L39.71,60.51 L39.69,60.66 L39.67,60.82 L39.65,60.97 L39.63,61.12 L39.62,61.28 L39.61,61.43 L39.61,61.59 L39.60,61.74 L39.60,61.90 L39.60,62.06 L39.61,62.21 L39.61,62.37 L39.62,62.52 L39.63,62.68 L39.65,62.83 L39.67,62.98 L39.69,63.14 L39.71,63.29 L39.65,63.46 L39.46,63.66 L39.18,63.88 L38.85,64.13 L38.54,64.38 L38.27,64.64 L38.10,64.88 L38.08,65.09 L38.13,65.27 L38.19,65.45 L38.26,65.63 L38.32,65.81 L38.39,65.98 L38.47,66.16 L38.54,66.33 L38.62,66.51 L38.70,66.68 L38.79,66.85 L38.88,67.02 L38.97,67.18 L39.06,67.35 L39.16,67.51 L39.26,67.68 L39.36,67.84 L39.46,68.00 L39.57,68.15 L39.68,68.31 L39.79,68.46 L39.91,68.61 L40.03,68.76 L40.15,68.91 L40.27,69.05 L40.40,69.19 L40.53,69.33 L40.72,69.41 L41.01,69.39 L41.37,69.29 L41.75,69.14 L42.12,68.98 L42.46,68.85 L42.72,68.78 L42.90,68.82 L43.02,68.91 L43.14,69.01 L43.27,69.10 L43.40,69.19 L43.52,69.28 L43.65,69.36 L43.78,69.45 L43.92,69.53 L44.05,69.61 L44.19,69.68 L44.32,69.76 L44.46,69.83 L44.60,69.90 L44.74,69.97 L44.88,70.03 L45.02,70.09 L45.17,70.15 L45.31,70.21 L45.43,70.34 L45.50,70.61 L45.55,70.97 L45.61,71.37 L45.67,71.77 L45.76,72.13 L45.88,72.39 L46.05,72.52 L46.23,72.56 L46.42,72.60 L46.61,72.63 L46.79,72.67 L46.98,72.69 L47.17,72.72 L47.36,72.74 L47.55,72.76 L47.74,72.77 L47.93,72.79 L48.12,72.79 L48.31,72.80 L48.50,72.80 L48.69,72.80 L48.88,72.79 L49.07,72.79 L49.26,72.77 L49.45,72.76 L49.64,72.74 L49.83,72.72 L50.02,72.69 L50.21,72.67 L50.39,72.63 L50.58,72.60 L50.77,72.56 L50.95,72.52 L51.12,72.39 L51.24,72.13 L51.33,71.77 L51.39,71.37 L51.45,70.97 L51.50,70.61 L51.57,70.34 L51.69,70.21 L51.83,70.15 L51.98,70.09 L52.12,70.03 L52.26,69.97 L52.40,69.90 L52.54,69.83 L52.68,69.76 L52.81,69.68 L52.95,69.61 L53.08,69.53 L53.22,69.45 L53.35,69.36 L53.48,69.28 L53.60,69.19 L53.73,69.10 L53.86,69.01 L53.98,68.91 L54.10,68.82 L54.28,68.78 L54.54,68.85 L54.88,68.98 L55.25,69.14 L55.63,69.29 L55.99,69.39 L56.28,69.41 L56.47,69.33 L56.60,69.19 L56.73,69.05 L56.85,68.91 L56.97,68.76 L57.09,68.61 L57.21,68.46 L57.32,68.31 L57.43,68.15 L57.54,68.00 L57.64,67.84 L57.74,67.68 L57.84,67.51 L57.94,67.35 L58.03,67.18 L58.12,67.02 L58.21,66.85 L58.30,66.68 L58.38,66.51 L58.46,66.33 L58.53,66.16 L58.61,65.98 L58.68,65.81 L58.74,65.63 L58.81,65.45 L58.87,65.27 L58.92,65.09 L58.90,64.88 L58.73,64.64 L58.46,64.38 L58.15,64.13 L57.82,63.88 L57.54,63.66 L57.35,63.46 L57.29,63.29 L57.31,63.14 L57.33,62.98 L57.35,62.83 L57.37,62.68 L57.38,62.52 L57.39,62.37 L57.39,62.21 L57.40,62.06 Z" fill="#e3000f"/>
<path d="M51.20,50.30 L41.20,63.90 L47.20,64.30 L44.60,72.60 L46.90,72.60 L55.70,60.10 L49.80,59.70 L52.60,50.30 Z" fill="#fff"/>
<g transform="translate(63.3,66.4) scale(1.0) skewX(-15)" fill="none" stroke="#111" stroke-width="2.05" stroke-linejoin="round">
<path transform="translate(1.00,0)" d="M0,-1.0 V-5.6 Q0,-9.2 3.6,-9.2 H6.5 Q8.0,-9.2 8.0,-7.699999999999999 V-1.0 M0,-4.6 H8.0"/>
<path transform="translate(13.50,0)" d="M0,-5.9 V-3.0 Q0,-1.0 2.0,-1.0 H6.6 V-5.9"/>
<path transform="translate(22.20,0)" d="M1.3,-8.6 V-3.0 Q1.3,-1.0 3.3,-1.0 H4.8 M-0.2,-5.9 H4.6"/>
<path transform="translate(28.50,0)" d="M2.0,-5.9 H4.9 Q6.9,-5.9 6.9,-3.9000000000000004 V-3.0 Q6.9,-1.0 4.9,-1.0 H2.0 Q0,-1.0 0,-3.0 V-3.9000000000000004 Q0,-5.9 2.0,-5.9 Z"/>
<path transform="translate(38.00,0)" d="M9.4,-9.2 H2.0 Q0,-9.2 0,-7.199999999999999 V-6.5 Q0,-5.1 2.0,-5.1 H7.4 Q9.4,-5.1 9.4,-3.0999999999999996 V-3.0 Q9.4,-1.0 7.4,-1.0 H0"/>
<path transform="translate(49.60,0)" d="M1.3,-8.6 V-3.0 Q1.3,-1.0 3.3,-1.0 H4.8 M-0.2,-5.9 H4.6"/>
<path transform="translate(56.90,0)" d="M0.2,-5.9 H5.4 Q6.9,-5.9 6.9,-4.4 V-1.0 H1.2 Q0,-1.0 0,-2.2 Q0,-3.45 1.2,-3.45 H6.9"/>
<path transform="translate(66.00,0)" d="M0,-1.0 V-3.9000000000000004 Q0,-5.9 2.0,-5.9 H5.2"/>
<path transform="translate(72.90,0)" d="M1.3,-8.6 V-3.0 Q1.3,-1.0 3.3,-1.0 H4.8 M-0.2,-5.9 H4.6"/>
</g>
</svg>

<svg width="976" height="683" style="pointer-events:none">
<text x="853.3" y="34.8" font-family="Liberation Sans, sans-serif" font-weight="bold" font-size="16.5" fill="#f00" textLength="67" lengthAdjust="spacingAndGlyphs">PL_2306</text>
<path d="M877,64 H916.7 Q921.7,64 921.7,69 V98.8 Q921.7,103.8 916.7,103.8 H877 A21.8,19.9 0 0 1 877,64 Z" fill="none" stroke="#111" stroke-width="2.1"/>
<rect x="884.4" y="59.2" width="10.6" height="5" fill="#1a1a1a"/>
<rect x="877" y="63.5" width="7" height="5.4" fill="#1a1a1a"/>
<rect x="895" y="63.5" width="7" height="5.4" fill="#1a1a1a"/>
<rect x="886.2" y="98.1" width="7.5" height="6" fill="#1a1a1a"/>
<path d="M863.8,83.6 H879.6 M897.6,83.6 H913.4" stroke="#111" stroke-width="1.9"/>
<text x="859.6" y="125.8" font-family="Liberation Sans, sans-serif" font-weight="bold" font-size="14" fill="#111" textLength="23.8" lengthAdjust="spacingAndGlyphs">LIN</text>
<rect x="825" y="147" width="25" height="11.5" fill="#dcdcdc"/>
<rect x="852" y="147" width="100" height="11.5" fill="#dcdcdc"/>
<rect x="825" y="171" width="25" height="11.5" fill="#dcdcdc"/>
<rect x="852" y="171" width="100" height="11.5" fill="#dcdcdc"/>
<rect x="825" y="195" width="25" height="11.5" fill="#dcdcdc"/>
<rect x="852" y="195" width="100" height="11.5" fill="#dcdcdc"/>
<text x="830.2" y="156" font-family="Liberation Sans, sans-serif" font-weight="bold" font-size="9" fill="#111" textLength="13.9" lengthAdjust="spacingAndGlyphs">LIN</text>
<text x="852.5" y="156" font-family="Liberation Sans, sans-serif" font-size="9.2" fill="#333" textLength="99.5" lengthAdjust="spacingAndGlyphs">COM Communication</text>
</svg>

<!-- info rows -->
<svg width="976" height="683">
<g fill="#111">
<path d="M20.2,386.5 h6.2 l6.2,6.2 q0.8,0.8 0,1.6 l-4.6,4.6 q-0.8,0.8 -1.6,0 l-6.2,-6.2 z" />
<circle cx="23.2" cy="389.5" r="1.3" fill="#fff"/>
<path d="M28.3,386.5 h1.6 l6.2,6.2 q0.8,0.8 0,1.6 l-4.6,4.6 q-0.6,0.6 -1.4,0.1 l4.3,-4.3 q0.9,-0.9 0,-1.8 z"/>
</g>
<g fill="none" stroke="#1b3fa6" stroke-width="1.4" stroke-linejoin="round">
<path d="M22.8,416.6 H33.2 L35.6,420.3 L28,428.3 L20.3,420.3 Z M20.3,420.3 H35.6 M25.3,416.6 L24,420.3 L28,428.3 L32,420.3 L30.7,416.6 M24,420.3 L28,416.8 L32,420.3"/>
</g>
</svg>
<div class="abs info" style="left:40.3px;top:385px;letter-spacing:-0.25px">AS index: <b style="letter-spacing:-0.5px">A0298(SEG)</b></div>
<div class="abs info" style="left:40px;top:415px;color:#1b3fa6;font-weight:bold;letter-spacing:-0.4px">PREMIUM LINE</div>
<svg width="976" height="683">
<g>
<circle cx="307.9" cy="392.3" r="6.2" fill="#111"/><rect x="307" y="391" width="1.9" height="4.6" fill="#fff"/><rect x="306.2" y="391" width="2.4" height="1.1" fill="#fff"/><rect x="306.2" y="394.8" width="3.6" height="1.1" fill="#fff"/><circle cx="308" cy="389.2" r="1.1" fill="#fff"/>
<circle cx="307.9" cy="422.2" r="6.2" fill="#111"/><rect x="307" y="420.9" width="1.9" height="4.6" fill="#fff"/><rect x="306.2" y="420.9" width="2.4" height="1.1" fill="#fff"/><rect x="306.2" y="424.7" width="3.6" height="1.1" fill="#fff"/><circle cx="308" cy="419.1" r="1.1" fill="#fff"/>
<circle cx="615.7" cy="392.2" r="6.1" fill="#111"/><rect x="614.8" y="390.9" width="1.9" height="4.6" fill="#fff"/><rect x="614" y="390.9" width="2.4" height="1.1" fill="#fff"/><rect x="614" y="394.7" width="3.6" height="1.1" fill="#fff"/><circle cx="615.8" cy="389.1" r="1.1" fill="#fff"/>
</g>
<!-- SEG logo -->
<path d="M711.16,408.04 A14.4,14.4 0 0 0 694.94,431.2" fill="none" stroke="#1aa06a" stroke-width="1.7"/>
<path d="M716.33,411.94 A14.4,14.4 0 0 1 700.14,434.64" fill="none" stroke="#1d4f8a" stroke-width="1.7"/>
<g fill="none" stroke="#1d4f8a" stroke-width="3.5">
<path d="M748.7,408.9 H733.6 Q731.3,408.9 731.3,411.2 V413.8 Q731.3,416.1 733.6,416.1 H744.6 Q746.9,416.1 746.9,418.4 V421 Q746.9,423.3 744.6,423.3 H729.5"/>
<path d="M768.4,408.9 H756.7 Q754.4,408.9 754.4,411.2 V421 Q754.4,423.3 756.7,423.3 H768.4 M754.4,416.1 H767"/>
<path d="M790.4,408.9 H776 Q773.6,408.9 773.6,411.2 V421 Q773.6,423.3 776,423.3 H786.3 Q788.6,423.3 788.6,421 V416.1 H780.5"/>
</g>
<text x="729.5" y="436.7" font-family="Liberation Sans, sans-serif" font-size="6.6" fill="#1d4f8a" stroke="#1d4f8a" stroke-width="0.25" textLength="61" lengthAdjust="spacingAndGlyphs">AUTOMOTIVE</text>
</svg>
<div class="abs info" style="left:319.8px;top:385px;letter-spacing:-0.3px">Brand new OEM SEG Alternator</div>
<div class="abs info" style="left:319.8px;top:415px;letter-spacing:0px">Product type: <b style="letter-spacing:-0.6px">Brand new</b></div>
<div class="abs info" style="left:627.2px;top:385px;letter-spacing:-0.3px">Producer: <b style="letter-spacing:-0.6px">SEG Automotive</b></div>

<table class="spec">
<tr><td class="l">Voltage</td><td class="v">12 V</td><td class="l">Amp.</td><td class="v">150 A</td></tr>
<tr><td class="l">Size A</td><td class="v">32.00 mm</td><td class="l">Size C</td><td class="v">55.00 mm</td></tr>
<tr><td class="l">G</td><td class="v">6 qty.</td><td class="l">O.D.1</td><td class="v">49.50 mm</td></tr>
<tr><td class="l">Pulley</td><td class="v">AFP&nbsp;</td><td class="l">D.1</td><td class="v">16.50 mm</td></tr>
<tr><td class="l">D.2</td><td class="v">9.50 mm</td><td class="l">D.3</td><td class="v">8.50 mm</td></tr>
<tr><td class="l">D.4</td><td class="v">8.50 mm</td><td class="l">E.1</td><td class="v">70.00 mm</td></tr>
<tr><td class="l">E.2</td><td class="v">70.00 mm</td><td class="l">L.1</td><td class="v">196.00 mm</td></tr>
<tr><td class="l">Plug</td><td class="v">PL_2306&nbsp;</td><td class="l">COM ID</td><td class="v">24&nbsp;</td></tr>
</table>

<svg width="976" height="683" style="pointer-events:none">
<path d="M11,589 L177.5,468.3 M399.3,599.3 L575.4,469.9 M206,454.6 L399.3,599.3" stroke="#fff" stroke-width="1.5" opacity="0.75" fill="none"/>
<g transform="translate(164.5,455) scale(0.88) skewX(-15)" fill="none" stroke="#fff" stroke-width="2.05" stroke-linejoin="round">
<path transform="translate(1.00,0)" d="M0,-1.0 V-5.6 Q0,-9.2 3.6,-9.2 H6.5 Q8.0,-9.2 8.0,-7.699999999999999 V-1.0 M0,-4.6 H8.0"/>
<path transform="translate(13.50,0)" d="M0,-5.9 V-3.0 Q0,-1.0 2.0,-1.0 H6.6 V-5.9"/>
<path transform="translate(22.20,0)" d="M1.3,-8.6 V-3.0 Q1.3,-1.0 3.3,-1.0 H4.8 M-0.2,-5.9 H4.6"/>
<path transform="translate(28.50,0)" d="M2.0,-5.9 H4.9 Q6.9,-5.9 6.9,-3.9000000000000004 V-3.0 Q6.9,-1.0 4.9,-1.0 H2.0 Q0,-1.0 0,-3.0 V-3.9000000000000004 Q0,-5.9 2.0,-5.9 Z"/>
<path transform="translate(38.00,0)" d="M9.4,-9.2 H2.0 Q0,-9.2 0,-7.199999999999999 V-6.5 Q0,-5.1 2.0,-5.1 H7.4 Q9.4,-5.1 9.4,-3.0999999999999996 V-3.0 Q9.4,-1.0 7.4,-1.0 H0"/>
<path transform="translate(49.60,0)" d="M1.3,-8.6 V-3.0 Q1.3,-1.0 3.3,-1.0 H4.8 M-0.2,-5.9 H4.6"/>
<path transform="translate(56.90,0)" d="M0.2,-5.9 H5.4 Q6.9,-5.9 6.9,-4.4 V-1.0 H1.2 Q0,-1.0 0,-2.2 Q0,-3.45 1.2,-3.45 H6.9"/>
<path transform="translate(66.00,0)" d="M0,-1.0 V-3.9000000000000004 Q0,-5.9 2.0,-5.9 H5.2"/>
<path transform="translate(72.90,0)" d="M1.3,-8.6 V-3.0 Q1.3,-1.0 3.3,-1.0 H4.8 M-0.2,-5.9 H4.6"/>
</g>
<g transform="translate(564.5,455) scale(0.88) skewX(-15)" fill="none" stroke="#fff" stroke-width="2.05" stroke-linejoin="round">
<path transform="translate(1.00,0)" d="M0,-1.0 V-5.6 Q0,-9.2 3.6,-9.2 H6.5 Q8.0,-9.2 8.0,-7.699999999999999 V-1.0 M0,-4.6 H8.0"/>
<path transform="translate(13.50,0)" d="M0,-5.9 V-3.0 Q0,-1.0 2.0,-1.0 H6.6 V-5.9"/>
<path transform="translate(22.20,0)" d="M1.3,-8.6 V-3.0 Q1.3,-1.0 3.3,-1.0 H4.8 M-0.2,-5.9 H4.6"/>
<path transform="translate(28.50,0)" d="M2.0,-5.9 H4.9 Q6.9,-5.9 6.9,-3.9000000000000004 V-3.0 Q6.9,-1.0 4.9,-1.0 H2.0 Q0,-1.0 0,-3.0 V-3.9000000000000004 Q0,-5.9 2.0,-5.9 Z"/>
<path transform="translate(38.00,0)" d="M9.4,-9.2 H2.0 Q0,-9.2 0,-7.199999999999999 V-6.5 Q0,-5.1 2.0,-5.1 H7.4 Q9.4,-5.1 9.4,-3.0999999999999996 V-3.0 Q9.4,-1.0 7.4,-1.0 H0"/>
<path transform="translate(49.60,0)" d="M1.3,-8.6 V-3.0 Q1.3,-1.0 3.3,-1.0 H4.8 M-0.2,-5.9 H4.6"/>
<path transform="translate(56.90,0)" d="M0.2,-5.9 H5.4 Q6.9,-5.9 6.9,-4.4 V-1.0 H1.2 Q0,-1.0 0,-2.2 Q0,-3.45 1.2,-3.45 H6.9"/>
<path transform="translate(66.00,0)" d="M0,-1.0 V-3.9000000000000004 Q0,-5.9 2.0,-5.9 H5.2"/>
<path transform="translate(72.90,0)" d="M1.3,-8.6 V-3.0 Q1.3,-1.0 3.3,-1.0 H4.8 M-0.2,-5.9 H4.6"/>
</g>
<rect x="662" y="533" width="124" height="26" fill="rgba(255,255,255,0.5)"/>
<path d="M684.02,546.80 L684.02,546.65 L684.02,546.50 L684.01,546.34 L684.00,546.19 L683.99,546.04 L683.97,545.89 L683.96,545.74 L683.94,545.59 L683.91,545.44 L683.97,545.27 L684.16,545.08 L684.44,544.86 L684.75,544.62 L685.06,544.37 L685.32,544.11 L685.49,543.88 L685.52,543.68 L685.46,543.50 L685.40,543.32 L685.34,543.15 L685.27,542.97 L685.20,542.80 L685.13,542.63 L685.06,542.46 L684.98,542.29 L684.90,542.12 L684.82,541.95 L684.73,541.79 L684.64,541.62 L684.55,541.46 L684.46,541.30 L684.36,541.14 L684.26,540.98 L684.16,540.83 L684.05,540.67 L683.94,540.52 L683.83,540.37 L683.72,540.22 L683.60,540.08 L683.48,539.93 L683.36,539.79 L683.24,539.65 L683.11,539.51 L682.92,539.44 L682.64,539.46 L682.29,539.56 L681.92,539.70 L681.55,539.86 L681.22,539.99 L680.96,540.05 L680.79,540.02 L680.67,539.93 L680.55,539.83 L680.43,539.74 L680.30,539.66 L680.18,539.57 L680.05,539.49 L679.92,539.40 L679.79,539.32 L679.66,539.25 L679.53,539.17 L679.39,539.10 L679.26,539.03 L679.12,538.96 L678.99,538.90 L678.85,538.83 L678.71,538.77 L678.57,538.71 L678.43,538.66 L678.31,538.52 L678.24,538.26 L678.19,537.92 L678.14,537.52 L678.07,537.13 L677.99,536.78 L677.86,536.52 L677.70,536.39 L677.52,536.35 L677.34,536.31 L677.15,536.28 L676.97,536.25 L676.79,536.22 L676.60,536.20 L676.42,536.18 L676.23,536.16 L676.05,536.14 L675.86,536.13 L675.67,536.12 L675.49,536.12 L675.30,536.12 L675.11,536.12 L674.93,536.12 L674.74,536.13 L674.55,536.14 L674.37,536.16 L674.18,536.18 L674.00,536.20 L673.81,536.22 L673.63,536.25 L673.45,536.28 L673.26,536.31 L673.08,536.35 L672.90,536.39 L672.74,536.52 L672.61,536.78 L672.53,537.13 L672.46,537.52 L672.41,537.92 L672.36,538.26 L672.29,538.52 L672.17,538.66 L672.03,538.71 L671.89,538.77 L671.75,538.83 L671.61,538.90 L671.48,538.96 L671.34,539.03 L671.21,539.10 L671.07,539.17 L670.94,539.25 L670.81,539.32 L670.68,539.40 L670.55,539.49 L670.42,539.57 L670.30,539.66 L670.17,539.74 L670.05,539.83 L669.93,539.93 L669.81,540.02 L669.64,540.05 L669.38,539.99 L669.05,539.86 L668.68,539.70 L668.31,539.56 L667.96,539.46 L667.68,539.44 L667.49,539.51 L667.36,539.65 L667.24,539.79 L667.12,539.93 L667.00,540.08 L666.88,540.22 L666.77,540.37 L666.66,540.52 L666.55,540.67 L666.44,540.83 L666.34,540.98 L666.24,541.14 L666.14,541.30 L666.05,541.46 L665.96,541.62 L665.87,541.79 L665.78,541.95 L665.70,542.12 L665.62,542.29 L665.54,542.46 L665.47,542.63 L665.40,542.80 L665.33,542.97 L665.26,543.15 L665.20,543.32 L665.14,543.50 L665.08,543.68 L665.11,543.88 L665.28,544.11 L665.54,544.37 L665.85,544.62 L666.16,544.86 L666.44,545.08 L666.63,545.27 L666.69,545.44 L666.66,545.59 L666.64,545.74 L666.63,545.89 L666.61,546.04 L666.60,546.19 L666.59,546.34 L666.58,546.50 L666.58,546.65 L666.58,546.80 L666.58,546.95 L666.58,547.10 L666.59,547.26 L666.60,547.41 L666.61,547.56 L666.63,547.71 L666.64,547.86 L666.66,548.01 L666.69,548.16 L666.63,548.33 L666.44,548.52 L666.16,548.74 L665.85,548.98 L665.54,549.23 L665.28,549.49 L665.11,549.72 L665.08,549.92 L665.14,550.10 L665.20,550.28 L665.26,550.45 L665.33,550.63 L665.40,550.80 L665.47,550.97 L665.54,551.14 L665.62,551.31 L665.70,551.48 L665.78,551.65 L665.87,551.81 L665.96,551.98 L666.05,552.14 L666.14,552.30 L666.24,552.46 L666.34,552.62 L666.44,552.77 L666.55,552.93 L666.66,553.08 L666.77,553.23 L666.88,553.38 L667.00,553.52 L667.12,553.67 L667.24,553.81 L667.36,553.95 L667.49,554.09 L667.68,554.16 L667.96,554.14 L668.31,554.04 L668.68,553.90 L669.05,553.74 L669.38,553.61 L669.64,553.55 L669.81,553.58 L669.93,553.67 L670.05,553.77 L670.17,553.86 L670.30,553.94 L670.42,554.03 L670.55,554.11 L670.68,554.20 L670.81,554.28 L670.94,554.35 L671.07,554.43 L671.21,554.50 L671.34,554.57 L671.48,554.64 L671.61,554.70 L671.75,554.77 L671.89,554.83 L672.03,554.89 L672.17,554.94 L672.29,555.08 L672.36,555.34 L672.41,555.68 L672.46,556.08 L672.53,556.47 L672.61,556.82 L672.74,557.08 L672.90,557.21 L673.08,557.25 L673.26,557.29 L673.45,557.32 L673.63,557.35 L673.81,557.38 L674.00,557.40 L674.18,557.42 L674.37,557.44 L674.55,557.46 L674.74,557.47 L674.93,557.48 L675.11,557.48 L675.30,557.48 L675.49,557.48 L675.67,557.48 L675.86,557.47 L676.05,557.46 L676.23,557.44 L676.42,557.42 L676.60,557.40 L676.79,557.38 L676.97,557.35 L677.15,557.32 L677.34,557.29 L677.52,557.25 L677.70,557.21 L677.86,557.08 L677.99,556.82 L678.07,556.47 L678.14,556.08 L678.19,555.68 L678.24,555.34 L678.31,555.08 L678.43,554.94 L678.57,554.89 L678.71,554.83 L678.85,554.77 L678.99,554.70 L679.12,554.64 L679.26,554.57 L679.39,554.50 L679.53,554.43 L679.66,554.35 L679.79,554.28 L679.92,554.20 L680.05,554.11 L680.18,554.03 L680.30,553.94 L680.43,553.86 L680.55,553.77 L680.67,553.67 L680.79,553.58 L680.96,553.55 L681.22,553.61 L681.55,553.74 L681.92,553.90 L682.29,554.04 L682.64,554.14 L682.92,554.16 L683.11,554.09 L683.24,553.95 L683.36,553.81 L683.48,553.67 L683.60,553.52 L683.72,553.38 L683.83,553.23 L683.94,553.08 L684.05,552.93 L684.16,552.77 L684.26,552.62 L684.36,552.46 L684.46,552.30 L684.55,552.14 L684.64,551.98 L684.73,551.81 L684.82,551.65 L684.90,551.48 L684.98,551.31 L685.06,551.14 L685.13,550.97 L685.20,550.80 L685.27,550.63 L685.34,550.45 L685.40,550.28 L685.46,550.10 L685.52,549.92 L685.49,549.72 L685.32,549.49 L685.06,549.23 L684.75,548.98 L684.44,548.74 L684.16,548.52 L683.97,548.33 L683.91,548.16 L683.94,548.01 L683.96,547.86 L683.97,547.71 L683.99,547.56 L684.00,547.41 L684.01,547.26 L684.02,547.10 L684.02,546.95 Z" fill="#e3000f"/>
<path d="M677.95,535.43 L668.15,548.76 L674.03,549.15 L671.48,557.29 L673.73,557.29 L682.36,545.04 L676.57,544.64 L679.32,535.43 Z" fill="#fff"/>
<g transform="translate(690.6,551.8) scale(0.98) skewX(-15)" fill="none" stroke="#111" stroke-width="2.05" stroke-linejoin="round">
<path transform="translate(1.00,0)" d="M0,-1.0 V-5.6 Q0,-9.2 3.6,-9.2 H6.5 Q8.0,-9.2 8.0,-7.699999999999999 V-1.0 M0,-4.6 H8.0"/>
<path transform="translate(13.50,0)" d="M0,-5.9 V-3.0 Q0,-1.0 2.0,-1.0 H6.6 V-5.9"/>
<path transform="translate(22.20,0)" d="M1.3,-8.6 V-3.0 Q1.3,-1.0 3.3,-1.0 H4.8 M-0.2,-5.9 H4.6"/>
<path transform="translate(28.50,0)" d="M2.0,-5.9 H4.9 Q6.9,-5.9 6.9,-3.9000000000000004 V-3.0 Q6.9,-1.0 4.9,-1.0 H2.0 Q0,-1.0 0,-3.0 V-3.9000000000000004 Q0,-5.9 2.0,-5.9 Z"/>
<path transform="translate(38.00,0)" d="M9.4,-9.2 H2.0 Q0,-9.2 0,-7.199999999999999 V-6.5 Q0,-5.1 2.0,-5.1 H7.4 Q9.4,-5.1 9.4,-3.0999999999999996 V-3.0 Q9.4,-1.0 7.4,-1.0 H0"/>
<path transform="translate(49.60,0)" d="M1.3,-8.6 V-3.0 Q1.3,-1.0 3.3,-1.0 H4.8 M-0.2,-5.9 H4.6"/>
<path transform="translate(56.90,0)" d="M0.2,-5.9 H5.4 Q6.9,-5.9 6.9,-4.4 V-1.0 H1.2 Q0,-1.0 0,-2.2 Q0,-3.45 1.2,-3.45 H6.9"/>
<path transform="translate(66.00,0)" d="M0,-1.0 V-3.9000000000000004 Q0,-5.9 2.0,-5.9 H5.2"/>
<path transform="translate(72.90,0)" d="M1.3,-8.6 V-3.0 Q1.3,-1.0 3.3,-1.0 H4.8 M-0.2,-5.9 H4.6"/>
</g>
</svg>
</body></html>
